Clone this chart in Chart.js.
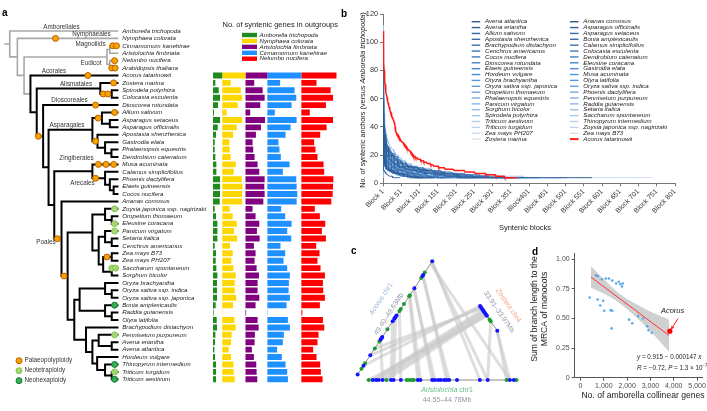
<!DOCTYPE html>
<html><head><meta charset="utf-8">
<script src="https://cdn.jsdelivr.net/npm/chart.js@4/dist/chart.umd.min.js"></script>
<style>
html,body{margin:0;padding:0;background:#fff;}
body{position:relative;width:707px;height:411px;overflow:hidden;font-family:'Liberation Sans',Arial,sans-serif;}
canvas{position:absolute;}
.pl{position:absolute;font-weight:bold;font-size:10px;line-height:10px;color:#000;}
</style></head><body>
<canvas id="cTree" width="213" height="411" style="left:0;top:0"></canvas>
<canvas id="cBars" width="130" height="411" style="left:213px;top:0"></canvas>
<canvas id="cB" width="367" height="245" style="left:340px;top:0"></canvas>
<canvas id="cC" width="185" height="171" style="left:345px;top:240px"></canvas>
<canvas id="cD" width="177" height="171" style="left:530px;top:240px"></canvas>
<div class="pl" style="left:2px;top:8px">a</div>
<div class="pl" style="left:341px;top:9px">b</div>
<div class="pl" style="left:351px;top:246px">c</div>
<div class="pl" style="left:532px;top:247px">d</div>
<script>
// ====================== DATA ======================
// ---- panel a: species (rows, top to bottom) ----
const species = ['Amborella trichopoda','Nymphaea colorata','Cinnamomum kanehirae','Aristolochia fimbriata','Nelumbo nucifera','Arabidopsis thaliana',
'Acorus tatarinowii','Zostera marina','Spirodela polyrhiza','Colocasia esculenta','Dioscorea rotundata','Allium sativum','Asparagus setaceus','Asparagus officinalis',
'Apostasia shenzhenica','Gastrodia elata','Phalaenopsis equestris','Dendrobium catenatum','Musa acuminata','Calamus simplicifolius','Phoenix dactylifera',
'Elaeis guineensis','Cocos nucifera','Ananas comosus','Zoysia japonica ssp. nagirizaki','Oropetium thomaeum','Eleusine coracana','Panicum virgatum',
'Setaria italica','Cenchrus americanus','Zea mays B73','Zea mays PH207','Saccharum spontaneum','Sorghum bicolor','Oryza brachyantha','Oryza sativa ssp. indica',
'Oryza sativa ssp. japonica','Bonia amplexicaulis','Raddia guianensis','Olyra latifolia','Brachypodium distachyon','Pennisetum purpureum','Avena eriantha',
'Avena atlantica','Hordeum vulgare','Thinopyrum intermedium','Triticum turgidum','Triticum aestivum'];
const outgroupNames = ['Amborella trichopoda','Nymphaea colorata','Aristolochia fimbriata','Cinnamomum kanehirae','Nelumbo nucifera'];
const outgroupColors = ['#1f8a1f','#ffd700','#800080','#1e90ff','#ff0000'];
// syntenic genes in outgroups for the 42 monocots (Acorus ... Triticum aestivum)
const genesAmborella = [3830,970,2360,2920,2090,420,2920,1950,1250,700,700,970,1390,1390,2920,2920,2920,2780,700,1250,1810,1810,1810,700,1250,1110,1390,1810,1670,1670,1670,1110,280,1530,1670,970,830,560,830,1250,1250,1250];
const genesNymphaea = [9590,3480,7650,8200,6390,1810,8200,5980,4450,2920,3060,3480,5560,4730,8060,8340,8200,8200,3060,4310,5980,4870,6120,3200,4310,3750,4590,5560,5140,5140,5700,4450,140,5000,5560,3890,3610,2640,3610,4590,4730,5140];
const genesAristolochia = [9040,3610,7090,7920,6120,1950,8060,6390,4310,2920,3200,3750,5000,5700,7920,7780,7920,7370,2920,4170,5700,4730,5840,3480,4170,3750,4590,5560,5000,5000,5700,4170,280,5000,5420,3890,3750,2640,3480,4450,4590,4870];
const genesCinnamomum = [14040,5280,11260,11950,10010,3060,12090,9590,7510,4590,5000,5560,9170,6390,11950,12090,12370,12090,5700,7370,10010,8200,9870,5420,7370,6670,8200,9310,8900,8760,9310,7920,140,8480,9310,6810,6390,4030,5980,7510,8200,8480];
const genesNelumbo = [14600,6260,12090,13070,10150,3480,13070,10430,7780,5280,5840,6670,9170,9450,13210,13070,12930,12370,5560,7650,9870,8480,10150,6120,7510,6670,7920,9730,8900,9040,9730,7650,420,8900,9450,7090,6670,4870,6260,7780,8060,8760];

// ---- panel a: tree (node depth d, children c) ----
const treeMonocots = {d:26.7, black:true, c:[
  'Acorus tatarinowii',
  {d:33.3, c:[
    {d:100, c:['Zostera marina', {id:'spiCol', d:112, c:['Spirodela polyrhiza','Colocasia esculenta']}]},
    {id:'B', d:40, c:['Dioscorea rotundata',
      {d:45.7, c:[
        {d:91.7, c:[
          {id:'allAsp', d:101.7, c:['Allium sativum', {d:110, c:['Asparagus setaceus','Asparagus officinalis']}]},
          {id:'orchid', d:97, c:['Apostasia shenzhenica', {d:105, c:['Gastrodia elata', {d:111.7, c:['Phalaenopsis equestris','Dendrobium catenatum']}]}]}
        ]},
        {d:51.7, c:[
          {d:91.7, c:['Musa acuminata', {id:'arec', d:105, c:['Calamus simplicifolius', {d:110, c:['Phoenix dactylifera', {d:114, c:['Elaeis guineensis','Cocos nucifera']}]}]}]},
          {id:'poales', d:59.3, c:['Ananas comosus',
            {id:'grass', d:65.7, c:[
              {d:91.7, c:[
                {d:105, c:['Zoysia japonica ssp. nagirizaki', {d:112, c:['Oropetium thomaeum','Eleusine coracana']}]},
                {d:98.3, c:[
                  {d:105, c:['Panicum virgatum', {d:112, c:['Setaria italica','Cenchrus americanus']}]},
                  {d:103, c:[{id:'zea', d:112, c:['Zea mays B73','Zea mays PH207']}, {d:112, c:['Saccharum spontaneum','Sorghum bicolor']}]}
                ]}
              ]},
              {d:72.7, c:[
                {d:78.3, c:[
                  {d:105, c:['Oryza brachyantha', {d:112, c:['Oryza sativa ssp. indica','Oryza sativa ssp. japonica']}]},
                  {d:105, c:['Bonia amplexicaulis', {d:112, c:['Raddia guianensis','Olyra latifolia']}]}
                ]},
                {d:85, c:['Brachypodium distachyon',
                  {d:91.7, c:[
                    {d:98.3, c:['Pennisetum purpureum', {d:112, c:['Avena eriantha','Avena atlantica']}]},
                    {d:96.7, c:['Hordeum vulgare', {d:105, c:['Thinopyrum intermedium', {d:112, c:['Triticum turgidum','Triticum aestivum']}]}]}
                  ]}
                ]}
              ]}
            ]}
          ]}
        ]}
      ]}
    ]}
  ]}
]};
const treeAll = {d:5, c:['Amborella trichopoda', {d:13, c:['Nymphaea colorata', {d:20, c:[
  {d:107, c:[{d:110, c:['Cinnamomum kanehirae','Aristolochia fimbriata']},{d:110, c:['Nelumbo nucifera','Arabidopsis thaliana']}]},
  treeMonocots]}]}]};
const leafDepth = 118;
// polyploidy events: [type, branch (leaf or node id), depth]
const wgdEvents = [
 ['P','Nymphaea colorata',53],['P','Cinnamomum kanehirae',113],['P','Cinnamomum kanehirae',117],
 ['P','Nelumbo nucifera',115],['P','Arabidopsis thaliana',112],['P','Arabidopsis thaliana',115.5],
 ['P','Acorus tatarinowii',87],['P','Zostera marina',114],['P','spiCol',103],['P','spiCol',108],
 ['P','Dioscorea rotundata',95],['P','Allium sativum',115],['P','allAsp',97.7],['P','orchid',95],
 ['P','B',35],['P','Musa acuminata',98],['P','Musa acuminata',106],['P','Musa acuminata',114],
 ['P','arec',95],['P','poales',55],['P','grass',62],['P','zea',107],
 ['T','Zoysia japonica ssp. nagirizaki',115],['T','Eleusine coracana',115],['T','Panicum virgatum',115],
 ['T','Saccharum spontaneum',112],['T','Saccharum spontaneum',116],['T','Pennisetum purpureum',115],['T','Triticum turgidum',115],
 ['H','Bonia amplexicaulis',115],['H','Thinopyrum intermedium',115],['H','Triticum aestivum',115]
];
const cladeLabels = [['Amborellales',61.5,27],['Nymphaeales',91.5,34],['Magnoliids',90.5,44.5],['Eudicot',91,63.5],['Acorales',54,71],
 ['Alismatales',76,84.5],['Dioscoreales',69.5,100.5],['Asparagales',67,125.5],['Zingiberales',76.5,158.5],['Arecales',82.5,183],['Poales',46,242]];

// ---- panel b: syntenic anchors per block (run-length: value, count, ...) sorted by block ----
const blockTicks = [1,51,101,151,201,251,301,351,401,451,501,551,601,651,701,751,801];
const blockTickLabels = ['Block 1','Block 51','Block 101','Block 151','Block 201','Block 251','Block 301','Block 351','Block401','Block 451','Block 501','Block 551','Block 601','Block 651','Block 701','Block 751','Block 801'];
const anchorsAvenaAtlantica = [38,1,22,1,17,2,14,3,12,4,10,6,9,7,8,9,7,12,6,16,5,22,4,30];
const anchorsAnanasComosus = [58,1,42,1,35,2,30,3,26,4,23,5,20,7,18,8,16,10,14,13,12,16,11,15,10,18,9,20,8,25,7,28,6,32,5,40,4,327];
const anchorsAvenaEriantha = [45,1,25,1,19,2,16,3,13,4,11,6,10,6,9,8,8,10,7,13,6,18,5,25,4,40];
const anchorsAsparagusOfficinalis = [52,1,36,1,30,2,26,3,22,4,19,6,17,7,15,9,13,12,11,15,10,15,9,18,8,22,7,25,6,30,5,35,4,45];
const anchorsAlliumSativum = [20,1,12,1,9,2,8,3,7,4,6,6,5,10,4,22];
const anchorsAsparagusSetaceus = [95,1,55,1,44,1,38,2,33,3,29,3,26,4,23,5,21,6,19,7,17,9,15,11,13,14,12,14,11,16,10,18,9,22,8,26,7,30,6,38,5,50,4,70];
const anchorsApostasiaShenzhenica = [48,1,30,1,24,2,20,3,17,4,15,5,13,7,11,9,10,10,9,12,8,14,7,17,6,20,5,26,4,40];
const anchorsBoniaAmplexicaulis = [42,1,27,1,22,2,18,3,15,4,13,5,11,7,10,8,9,10,8,12,7,15,6,18,5,24,4,35];
const anchorsBrachypodiumDistachyon = [62,1,40,1,32,2,27,3,23,4,20,5,18,6,16,8,14,10,12,13,11,13,10,15,9,18,8,20,7,25,6,30,5,38,4,70];
const anchorsCalamusSimplicifolius = [50,1,32,1,26,2,22,3,19,4,16,5,14,7,12,9,11,10,10,11,9,13,8,15,7,18,6,22,5,28,4,45];
const anchorsCenchrusAmericanus = [35,1,20,1,16,2,13,3,11,4,10,5,9,6,8,8,7,10,6,14,5,20,4,35];
const anchorsColocasiaEsculenta = [80,1,52,1,44,1,39,2,35,2,31,3,28,4,25,5,23,6,21,7,19,8,17,10,15,12,13,15,12,16,11,18,10,22,9,25,8,30,7,35,6,42,5,55,4,110];
const anchorsCocosNucifera = [70,1,48,1,40,2,34,2,30,3,27,4,24,5,22,6,20,7,18,9,16,11,14,14,12,18,11,16,10,20,9,24,8,28,7,33,6,40,5,50,4,90];
const anchorsDendrobiumCatenatum = [40,1,24,1,19,2,16,3,13,4,11,5,10,6,9,8,8,10,7,13,6,16,5,22,4,35];
const anchorsDioscoreaRotundata = [66,1,44,1,36,2,31,3,27,3,24,4,21,5,19,6,17,8,15,10,13,12,12,12,11,14,10,16,9,20,8,24,7,28,6,34,5,45,4,85];
const anchorsEleusineCoracana = [60,1,38,1,31,2,26,3,22,4,19,5,17,6,15,8,13,10,12,11,11,12,10,14,9,17,8,20,7,24,6,28,5,35,4,60];
const anchorsElaeisGuineensis = [75,1,50,1,41,2,35,2,31,3,27,4,25,4,22,6,20,7,18,9,16,11,14,14,12,17,11,16,10,20,9,24,8,28,7,33,6,40,5,52,4,100];
const anchorsGastrodiaElata = [34,1,20,1,15,2,12,3,10,5,9,6,8,8,7,10,6,13,5,18,4,30];
const anchorsHordeumVulgare = [44,1,26,1,20,2,16,3,14,4,12,5,10,7,9,8,8,11,7,14,6,18,5,24,4,40];
const anchorsMusaAcuminata = [55,1,34,1,27,2,23,3,19,4,17,5,15,6,13,8,11,10,10,11,9,13,8,16,7,19,6,24,5,30,4,55];
const anchorsOryzaBrachyantha = [56,1,36,1,29,2,25,3,21,4,18,5,16,7,14,9,12,11,11,12,10,14,9,17,8,20,7,24,6,28,5,36,4,60];
const anchorsOlyraLatifolia = [50,1,32,1,26,2,22,3,19,4,16,5,14,7,12,9,11,10,10,12,9,14,8,17,7,20,6,24,5,30,4,50];
const anchorsOryzaJaponica = [58,1,37,1,30,2,26,3,22,4,19,5,17,6,15,8,13,10,12,11,11,12,10,14,9,17,8,20,7,24,6,28,5,36,4,62];
const anchorsOryzaIndica = [57,1,36,1,30,2,25,3,21,4,18,5,16,7,14,9,12,11,11,12,10,14,9,17,8,20,7,24,6,28,5,36,4,58];
const anchorsOropetiumThomaeum = [46,1,29,1,23,2,19,3,16,4,14,5,12,7,11,8,10,9,9,11,8,13,7,16,6,20,5,26,4,42];
const anchorsPhoenixDactylifera = [85,1,54,1,44,1,38,2,33,3,29,3,26,4,23,5,21,6,19,7,17,9,15,11,13,14,12,14,11,16,10,18,9,22,8,26,7,30,6,36,5,48,4,230];
const anchorsPhalaenopsisEquestris = [36,1,21,1,16,2,13,3,11,4,10,5,9,6,8,8,7,10,6,14,5,20,4,32];
const anchorsPennisetumPurpureum = [40,1,24,1,19,2,15,3,13,4,11,5,10,6,9,8,8,10,7,13,6,16,5,22,4,38];
const anchorsPanicumVirgatum = [60,1,38,1,31,2,26,3,22,4,19,5,17,6,15,8,13,10,12,11,11,12,10,14,9,17,8,20,7,24,6,28,5,100,4,120];
const anchorsRaddiaGuianensis = [30,1,5,1,4,3];
const anchorsSorghumBicolor = [62,1,40,1,32,2,27,3,23,4,20,5,18,6,16,8,14,10,12,13,11,13,10,15,9,18,8,22,7,26,6,32,5,40,4,75];
const anchorsSetariaItalica = [60,1,39,1,31,2,26,3,22,4,19,5,17,6,15,8,13,10,12,11,11,12,10,14,9,17,8,20,7,24,6,30,5,40,4,75];
const anchorsSpirodelaPolyrhiza = [112,1,70,1,58,1,50,1,45,1,41,1,38,2,35,2,32,3,30,3,28,4,26,5,24,5,22,6,20,8,18,9,16,11,14,14,12,18,11,16,10,20,9,24,8,28,7,33,6,40,5,130,4,100];
const anchorsSaccharumSpontaneum = [52,1,33,1,27,2,23,3,19,4,17,5,15,6,13,8,11,10,10,11,9,13,8,16,7,19,6,22,5,28,4,50];
const anchorsTriticumAestivum = [50,1,32,1,26,2,22,3,19,4,16,5,14,7,12,9,11,10,10,11,9,13,8,15,7,18,6,24,5,90,4,60];
const anchorsThinopyrumIntermedium = [48,1,30,1,25,2,21,3,18,4,15,5,13,7,11,9,10,10,9,12,8,14,7,17,6,20,5,26,4,44];
const anchorsTriticumTurgidum = [49,1,31,1,25,2,21,3,18,4,15,5,13,7,12,8,11,9,10,10,9,12,8,14,7,17,6,22,5,30,4,48];
const anchorsZoysiaJaponica = [38,1,22,1,17,2,14,3,12,4,10,5,9,7,8,9,7,12,6,16,5,25,4,40];
const anchorsZeaMaysPH207 = [45,1,28,1,22,2,18,3,15,4,13,5,11,7,10,8,9,10,8,12,7,15,6,20,5,35,4,617];
const anchorsZeaMaysB73 = [50,1,31,1,25,2,21,3,18,4,15,5,13,7,12,8,11,9,10,10,9,12,8,14,7,17,6,22,5,30,4,50];
const anchorsZosteraMarina = [40,1,24,1,18,2,15,3,12,4,10,6,9,7,8,9,7,12,6,15,5,20,4,30];
const anchorsAcorusTatarinowii = [108,1,92,1,85,1,80,1,76,1,72,1,70,1,67,1,65,1,63,1,62,1,61,1,60,1,58,1,57,1,56,1,55,1,54,1,53,1,52,1,51,1,50,2,49,1,48,1,47,1,46,2,45,1,44,2,43,1,42,1,40,1,38,1,37,1,36,2,35,2,34,3,33,2,32,2,31,3,
 30,3,29,3,28,3,27,3,26,3,25,4,24,3,23,3,22,3,21,3,20,3,19,5,18,7,17,8,16,8,15,9,14,9,13,10,12,12,11,18,10,25,9,30,8,28,7,28,6,28,5,25,4,32];
// legend order (row-major, two columns)
const anchorSeries = [
 ['Avena atlantica',anchorsAvenaAtlantica],['Ananas comosus',anchorsAnanasComosus],
 ['Avena eriantha',anchorsAvenaEriantha],['Asparagus officinalis',anchorsAsparagusOfficinalis],
 ['Allium sativum',anchorsAlliumSativum],['Asparagus setaceus',anchorsAsparagusSetaceus],
 ['Apostasia shenzhenica',anchorsApostasiaShenzhenica],['Bonia amplexicaulis',anchorsBoniaAmplexicaulis],
 ['Brachypodium distachyon',anchorsBrachypodiumDistachyon],['Calamus simplicifolius',anchorsCalamusSimplicifolius],
 ['Cenchrus americanus',anchorsCenchrusAmericanus],['Colocasia esculenta',anchorsColocasiaEsculenta],
 ['Cocos nucifera',anchorsCocosNucifera],['Dendrobium catenatum',anchorsDendrobiumCatenatum],
 ['Dioscorea rotundata',anchorsDioscoreaRotundata],['Eleusine coracana',anchorsEleusineCoracana],
 ['Elaeis guineensis',anchorsElaeisGuineensis],['Gastrodia elata',anchorsGastrodiaElata],
 ['Hordeum vulgare',anchorsHordeumVulgare],['Musa acuminata',anchorsMusaAcuminata],
 ['Oryza brachyantha',anchorsOryzaBrachyantha],['Olyra latifolia',anchorsOlyraLatifolia],
 ['Oryza sativa ssp. japonica',anchorsOryzaJaponica],['Oryza sativa ssp. indica',anchorsOryzaIndica],
 ['Oropetium thomaeum',anchorsOropetiumThomaeum],['Phoenix dactylifera',anchorsPhoenixDactylifera],
 ['Phalaenopsis equestris',anchorsPhalaenopsisEquestris],['Pennisetum purpureum',anchorsPennisetumPurpureum],
 ['Panicum virgatum',anchorsPanicumVirgatum],['Raddia guianensis',anchorsRaddiaGuianensis],
 ['Sorghum bicolor',anchorsSorghumBicolor],['Setaria italica',anchorsSetariaItalica],
 ['Spirodela polyrhiza',anchorsSpirodelaPolyrhiza],['Saccharum spontaneum',anchorsSaccharumSpontaneum],
 ['Triticum aestivum',anchorsTriticumAestivum],['Thinopyrum intermedium',anchorsThinopyrumIntermedium],
 ['Triticum turgidum',anchorsTriticumTurgidum],['Zoysia japonica ssp. nagirizaki',anchorsZoysiaJaponica],
 ['Zea mays PH207',anchorsZeaMaysPH207],['Zea mays B73',anchorsZeaMaysB73],
 ['Zostera marina',anchorsZosteraMarina],['Acorus tatarinowii',anchorsAcorusTatarinowii]
];

// ---- panel c: gene positions (Mb) and synteny links ----
const acorusBlueMb = [49.400,49.418,49.439,49.471,49.474,49.476,49.508,49.513,49.515,49.517,49.520,49.575,49.600,49.602,49.630];
const acorusGreenMb = [49.412,49.423,49.453,49.467,49.492,49.529,49.533,49.543,49.559,49.561,49.596,49.607];
const aristBlueMb = [44.560,44.565,44.569,44.575,44.588,44.592,44.603,44.629,44.633,44.651,44.655,44.660,44.664,44.669,44.673,44.677,44.689,44.724,44.736,44.770,44.776];
const aristGreenMb = [44.554,44.581,44.612,44.616,44.620,44.623,44.765,44.780];
const zosteraBlueMb = [33.910,33.913,33.916,33.919,33.922,33.925,33.928,33.931,33.934,33.970];
const zosteraGreenMb = [33.943,33.947];
const syntenyLinks = [
 ['acorus',49.630,'arist',44.724],['acorus',49.628,'arist',44.736],['acorus',49.625,'arist',44.770],
 ['acorus',49.602,'arist',44.673],['acorus',49.600,'arist',44.677],
 ['acorus',49.575,'arist',44.651],['acorus',49.573,'arist',44.655],
 ['acorus',49.559,'arist',44.629],['acorus',49.561,'arist',44.633],
 ['acorus',49.529,'arist',44.603],['acorus',49.508,'arist',44.588],['acorus',49.517,'arist',44.592],
 ['acorus',49.471,'arist',44.575],
 ['zostera',33.910,'acorus',49.418],['zostera',33.913,'acorus',49.439],['zostera',33.916,'acorus',49.453],
 ['zostera',33.919,'arist',44.560],['zostera',33.922,'arist',44.565],['zostera',33.925,'arist',44.569],
 ['zostera',33.928,'arist',44.575],['zostera',33.931,'arist',44.581],['zostera',33.934,'arist',44.554],
 ['zostera',33.970,'arist',44.765],['zostera',33.968,'arist',44.770],['zostera',33.947,'arist',44.736]
];

// ---- panel d ----
const amborellaGenes = [389,667,736,736,847,917,972,1014,1083,1222,1292,1333,1361,1361,1528,1639,1708,1778,1819,2083,2222,2472,2681,2861,2917,3056];
const branchLength = [0.677,0.865,0.857,0.66,0.61,0.83,0.65,0.565,0.837,0.837,0.57,0.416,0.82,0.565,0.795,0.81,0.79,0.77,0.795,0.49,0.46,0.52,0.5,0.435,0.40,0.38];
const acorusPoint = [3833,0.393];
const fitIntercept = 0.915, fitSlope = -0.000147, fitRange = [450,3800];
const bandX = [450,1000,1700,2500,3200,3800];
const bandLow = [0.76,0.71,0.625,0.49,0.35,0.22];
const bandHigh = [0.94,0.83,0.705,0.61,0.54,0.49];
const xTicksD = [0,1000,2000,3000,4000,5000];
const yTicksD = [0,0.25,0.5,0.75,1];

// ====================== HELPERS ======================
const FF = "'Liberation Sans', Arial, Helvetica, sans-serif";
Chart.defaults.font.family = FF;
Chart.defaults.animation = false;
Chart.defaults.responsive = false;
Chart.defaults.maintainAspectRatio = false;
Chart.defaults.plugins.legend.display = false;
Chart.defaults.plugins.tooltip.enabled = false;
Chart.defaults.events = [];

function txt(ctx, parts, x, y, o){
  ctx.save(); ctx.translate(x,y); if(o.angle) ctx.rotate(o.angle);
  const fnt = p => (p.i?'italic ':'') + (p.b?'bold ':'') + (o.size*(p.s||1)).toFixed(2) + 'px ' + FF;
  let w = 0; parts.forEach(p=>{ctx.font=fnt(p); w+=ctx.measureText(p.t).width;});
  let cx = o.align==='center' ? -w/2 : (o.align==='right' ? -w : 0);
  ctx.textAlign='left'; ctx.textBaseline = o.baseline||'middle';
  parts.forEach(p=>{ctx.font=fnt(p); ctx.fillStyle=p.c||o.color||'#222'; ctx.fillText(p.t, cx, p.dy||0); cx+=ctx.measureText(p.t).width;});
  ctx.restore();
}
const T = (t,i,extra) => Object.assign({t:t, i:!!i}, extra||{});

// ====================== PANEL a : tree ======================
const treeGray=[], treeBlack=[], nodeY={};
function lay(node, black){
  if (typeof node === 'string') { nodeY[node]=species.indexOf(node); return {x:leafDepth, y:species.indexOf(node)}; }
  const blk = black || !!node.black;
  const kids = node.c.map(ch => lay(ch, blk));
  const y = (kids[0].y + kids[kids.length-1].y)/2;
  const arr = blk ? treeBlack : treeGray;
  arr.push({x:node.d,y:kids[0].y},{x:node.d,y:kids[kids.length-1].y},{x:node.d,y:null});
  kids.forEach(k=>arr.push({x:node.d,y:k.y},{x:k.x,y:k.y},{x:k.x,y:null}));
  if(node.id) nodeY[node.id]=y;
  return {x:node.d, y:y};
}
const rootPos = lay(treeAll,false);
treeGray.push({x:0,y:rootPos.y},{x:rootPos.x,y:rootPos.y},{x:0,y:null});
const evOf = t => wgdEvents.filter(e=>e[0]===t).map(e=>({x:e[2], y:nodeY[e[1]]}));

const treeTextPlugin = {id:'treeText', afterDatasetsDraw(chart){
  const ctx = chart.ctx, sx = chart.scales.x, sy = chart.scales.y;
  species.forEach((s,i)=>txt(ctx,[T(s,true)], sx.getPixelForValue(123), sy.getPixelForValue(i), {size:6.2,color:'#222'}));
  cladeLabels.forEach(c=>txt(ctx,[T(c[0])],c[1],c[2],{size:6.3,color:'#333',align:'center'}));
  const leg = [['Palaeopolyploidy','#f5a400','#c15f00'],['Neotetraploidy','#a5d86e','#86c257'],['Neohexaploidy','#31b14f','#167a33']];
  leg.forEach((l,k)=>{ const y=360.7+10*k; ctx.beginPath(); ctx.arc(19,y,3,0,Math.PI*2); ctx.fillStyle=l[1]; ctx.fill(); ctx.lineWidth=1; ctx.strokeStyle=l[2]; ctx.stroke();
    txt(ctx,[T(l[0])],24.5,y,{size:6.3,color:'#333'}); });
}};
new Chart(document.getElementById('cTree'), {
  type:'scatter',
  data:{datasets:[
    {data:evOf('P'), backgroundColor:'#f5a400', borderColor:'#c15f00', borderWidth:1, pointRadius:3, clip:false},
    {data:evOf('T'), backgroundColor:'#a5d86e', borderColor:'#86c257', borderWidth:1, pointRadius:3, clip:false},
    {data:evOf('H'), backgroundColor:'#31b14f', borderColor:'#167a33', borderWidth:1, pointRadius:3, clip:false},
    {data:treeBlack, showLine:true, borderColor:'#000', borderWidth:2, pointRadius:0, borderCapStyle:'square', clip:false},
    {data:treeGray, showLine:true, borderColor:'#a8a8a8', borderWidth:1.6, pointRadius:0, borderCapStyle:'square', clip:false}
  ]},
  options:{layout:{padding:{top:27.3,bottom:28,left:0,right:0}},
    scales:{x:{type:'linear',min:0,max:213,display:false}, y:{type:'linear',min:-0.5,max:47.5,reverse:true,display:false}}},
  plugins:[treeTextPlugin]
});

// ====================== PANEL a : bars ======================
const colVals = [genesAmborella,genesNymphaea,genesAristolochia,genesCinnamomum,genesNelumbo];
const colOffsets = []; let acc = 0;
colVals.forEach(v=>{colOffsets.push(acc); acc += Math.max(...v);});
const barsHeaderPlugin = {id:'barsHeader', afterDraw(chart){
  const ctx = chart.ctx;
  txt(ctx,[T('No. of syntenic genes in outgroups')],9.5,25,{size:7.5,color:'#222'});
  outgroupNames.forEach((n,k)=>{ const y = 35+5.93*k; ctx.fillStyle=outgroupColors[k]; ctx.fillRect(29,y-2.2,15,4.4);
    txt(ctx,[T(n,true)],46.5,y,{size:6.2,color:'#222'}); });
}};
new Chart(document.getElementById('cBars'), {
  type:'bar',
  data:{labels:species, datasets: colVals.map((v,k)=>({
    data: species.map((s,i)=> i<6 ? null : [colOffsets[k], colOffsets[k]+v[i-6]]),
    backgroundColor: outgroupColors[k], borderWidth:0, grouped:false, barPercentage:0.8, categoryPercentage:1
  }))},
  options:{indexAxis:'y', layout:{padding:{top:27.3,bottom:28,left:0,right:6.3}},
    scales:{x:{type:'linear',min:0,max:acc,display:false}, y:{type:'category',offset:true,display:false}}},
  plugins:[barsHeaderPlugin]
});

// ====================== PANEL b ======================
function expandRLE(rle){ const out=[]; let b=1; for(let i=0;i<rle.length;i+=2){ for(let c=0;c<rle[i+1];c++){ out.push({x:b, y:rle[i]}); b++; } } return out; }
function blueShade(k){
  const stops=[[0,[46,88,142]],[0.45,[72,142,214]],[1,[214,228,244]]];
  const t=k/40; let a=stops[0], b=stops[1]; if(t>stops[1][0]){a=stops[1]; b=stops[2];}
  const f=(t-a[0])/(b[0]-a[0]); const c=a[1].map((v,i)=>Math.round(v+(b[1][i]-v)*f));
  return 'rgb('+c.join(',')+')';
}
const seriesColors = anchorSeries.map((s,k)=> k===41 ? '#ff1a1a' : blueShade(k));
const bDatasets = anchorSeries.map((s,k)=>({
  data: expandRLE(s[1]), borderColor: seriesColors[k], borderWidth: k===41?1.5:1, pointRadius:0, order: k===41?0:1, tension:0
}));
const bTextPlugin = {id:'bText', afterDraw(chart){
  const ctx = chart.ctx;
  txt(ctx,[T('No. of syntenic anchors (versus '),T('Amborella trichopoda',true),T(')')],23,100,{size:7.3,color:'#222',align:'center',angle:-Math.PI/2});
  txt(ctx,[T('Syntenic blocks')],185,228,{size:7.5,color:'#222',align:'center'});
  anchorSeries.forEach((s,k)=>{
    const col = k%2, row = Math.floor(k/2);
    const y = 21.7 + 5.87*row; const x0 = col ? 230 : 131.7;
    ctx.beginPath(); ctx.moveTo(x0,y); ctx.lineTo(x0+8.5,y); ctx.lineWidth = k===41?2:1.4; ctx.strokeStyle = seriesColors[k]; ctx.stroke();
    txt(ctx,[T(s[0],true)], x0+13.3, y, {size:6.2,color:'#222'});
  });
}};
new Chart(document.getElementById('cB'), {
  type:'line',
  data:{datasets:bDatasets},
  options:{layout:{padding:{top:14,right:32,left:0,bottom:0}},
    scales:{
      x:{type:'linear',min:1,max:801,
         afterBuildTicks:s=>{s.ticks = blockTicks.map(v=>({value:v}));},
         ticks:{callback:(v,i)=>blockTickLabels[i], minRotation:45, maxRotation:45, autoSkip:false, font:{size:7}, color:'#333', padding:1},
         grid:{drawOnChartArea:false, tickLength:3, color:'#777'}, border:{color:'#777'},
         afterFit:s=>{s.height=61.7;}},
      y:{type:'linear',min:0,max:120,
         ticks:{stepSize:20, font:{size:7.3}, color:'#333', padding:2},
         grid:{drawOnChartArea:false, tickLength:3, color:'#777'}, border:{color:'#777'},
         afterFit:s=>{s.width=43;}}
    }},
  plugins:[bTextPlugin]
});

// ====================== PANEL c ======================
const chromGeom = {
  acorus:{from:[9,137], to:[87,18], start:49.40, end:49.63},
  arist:{from:[18,142.7], to:[175,142.7], start:44.55, end:44.78},
  zostera:{from:[137,65], to:[155,91], start:33.91, end:33.97}
};
function cpos(ch, mb){ const g=chromGeom[ch]; const t=(mb-g.start)/(g.end-g.start);
  return {x:g.from[0]+t*(g.to[0]-g.from[0]), y:g.from[1]+t*(g.to[1]-g.from[1])}; }
const cDatasets = [];
cDatasets.push({data: [].concat(acorusBlueMb.map(m=>cpos('acorus',m)), aristBlueMb.map(m=>cpos('arist',m)), zosteraBlueMb.map(m=>cpos('zostera',m))),
  backgroundColor:'#1414ff', borderWidth:0, pointRadius:2, clip:false});
cDatasets.push({data: [].concat(acorusGreenMb.map(m=>cpos('acorus',m)), aristGreenMb.map(m=>cpos('arist',m)), zosteraGreenMb.map(m=>cpos('zostera',m))),
  backgroundColor:'#1f9a30', borderWidth:0, pointRadius:2, clip:false});
Object.keys(chromGeom).forEach(ch=>{ const g=chromGeom[ch];
  cDatasets.push({data:[cpos(ch,g.start),cpos(ch,g.end)], showLine:true, borderColor:'#8c8c8c', borderWidth:1, pointRadius:0, clip:false}); });
syntenyLinks.forEach(l=>cDatasets.push({data:[cpos(l[0],l[1]),cpos(l[2],l[3])], showLine:true, borderColor:'rgba(200,200,200,0.6)', borderWidth:3, pointRadius:0, clip:false}));
const ang1 = Math.atan2(18-137, 87-9), ang2 = Math.atan2(91-65,155-137);
const cTextPlugin = {id:'cText', afterDraw(chart){
  const ctx = chart.ctx;
  txt(ctx,[T('Acorus',true),T(' chr1')],36,59,{size:7,color:'#9fb3dc',align:'center',angle:ang1});
  txt(ctx,[T('49.40–49.63Mb')],44,74,{size:7,color:'#8e9aa8',align:'center',angle:ang1});
  txt(ctx,[T('Zostera',true),T(' chr4')],163.5,65.5,{size:7,color:'#f4a07a',align:'center',angle:ang2});
  txt(ctx,[T('33.91–33.97Mb')],154,72,{size:7,color:'#8e9aa8',align:'center',angle:ang2});
  txt(ctx,[T('Aristolochia',true),T(' chr1')],102,150,{size:7,color:'#63bf86',align:'center'});
  txt(ctx,[T('44.55–44.78Mb')],102,160,{size:7,color:'#8e9aa8',align:'center'});
}};
new Chart(document.getElementById('cC'), {
  type:'scatter', data:{datasets:cDatasets},
  options:{layout:{padding:0}, scales:{x:{type:'linear',min:0,max:185,display:false}, y:{type:'linear',min:0,max:171,reverse:true,display:false}}},
  plugins:[cTextPlugin]
});

// ====================== PANEL d ======================
const dPts = amborellaGenes.map((x,i)=>({x:x, y:branchLength[i]}));
const fitPts = fitRange.map(x=>({x:x, y:fitIntercept + fitSlope*x}));
const dTextPlugin = {id:'dText', afterDraw(chart){
  const ctx = chart.ctx, sx=chart.scales.x, sy=chart.scales.y;
  txt(ctx,[T('No. of amborella collinear genes')],113,156,{size:8.6,color:'#222',align:'center'});
  txt(ctx,[T('Sum of branch length to the')],5,69,{size:8.6,color:'#222',align:'center',angle:-Math.PI/2});
  txt(ctx,[T('MRCA of monocots')],14.5,69,{size:8.6,color:'#222',align:'center',angle:-Math.PI/2});
  txt(ctx,[T('y',true),T(' = 0.915 − 0.000147 '),T('x',true)],107,117,{size:6.3,color:'#222'});
  txt(ctx,[T('R',true),T(' = −0.72, '),T('P',true),T(' = 1.3 × 10'),T('−7',false,{s:0.7,dy:-2.5})],107,128,{size:6.3,color:'#222'});
  txt(ctx,[T('Acorus',true)],sx.getPixelForValue(3950),sy.getPixelForValue(0.56),{size:7.5,color:'#222',align:'center'});
  const x1=sx.getPixelForValue(4180), y1=sy.getPixelForValue(0.50), x2=sx.getPixelForValue(3880), y2=sy.getPixelForValue(0.405);
  ctx.save(); ctx.strokeStyle='#ff2020'; ctx.fillStyle='#ff2020'; ctx.lineWidth=1;
  ctx.beginPath(); ctx.moveTo(x1,y1); ctx.lineTo(x2,y2); ctx.stroke();
  const a=Math.atan2(y2-y1,x2-x1); ctx.beginPath(); ctx.moveTo(x2,y2);
  ctx.lineTo(x2-4*Math.cos(a-0.45),y2-4*Math.sin(a-0.45)); ctx.lineTo(x2-4*Math.cos(a+0.45),y2-4*Math.sin(a+0.45)); ctx.closePath(); ctx.fill();
  ctx.restore();
}};
new Chart(document.getElementById('cD'), {
  type:'scatter',
  data:{datasets:[
    {data:[{x:acorusPoint[0],y:acorusPoint[1]}], backgroundColor:'#ff0000', borderWidth:0, pointRadius:2.6},
    {data:fitPts, showLine:true, borderColor:'#ff3030', borderWidth:1, pointRadius:0},
    {data:dPts, backgroundColor:'#5aa9ec', borderWidth:0, pointRadius:1.3},
    {data:bandX.map((x,i)=>({x:x,y:bandHigh[i]})), showLine:true, borderColor:'rgba(0,0,0,0)', borderWidth:0, pointRadius:0, fill:'+1', backgroundColor:'rgba(170,170,170,0.55)', tension:0.4},
    {data:bandX.map((x,i)=>({x:x,y:bandLow[i]})), showLine:true, borderColor:'rgba(0,0,0,0)', borderWidth:0, pointRadius:0, tension:0.4}
  ]},
  options:{layout:{padding:{top:13.3,right:0.3,left:0,bottom:0}},
    scales:{
      x:{type:'linear',min:-250,max:5250, afterBuildTicks:s=>{s.ticks=xTicksD.map(v=>({value:v}));},
         ticks:{callback:v=>v.toLocaleString('en-US'), font:{size:7}, color:'#4d4d4d', padding:1, maxRotation:0},
         grid:{drawOnChartArea:false, tickLength:3, color:'#555'}, border:{color:'#555'}, afterFit:s=>{s.height=33.3;}},
      y:{type:'linear',min:0,max:1.05, afterBuildTicks:s=>{s.ticks=yTicksD.map(v=>({value:v}));},
         ticks:{callback:v=> v===0?'0':v.toFixed(2), font:{size:7}, color:'#4d4d4d', padding:2},
         grid:{drawOnChartArea:false, tickLength:3, color:'#555'}, border:{color:'#555'}, afterFit:s=>{s.width=44.7;}}
    }},
  plugins:[dTextPlugin]
});
</script>
</body></html>
